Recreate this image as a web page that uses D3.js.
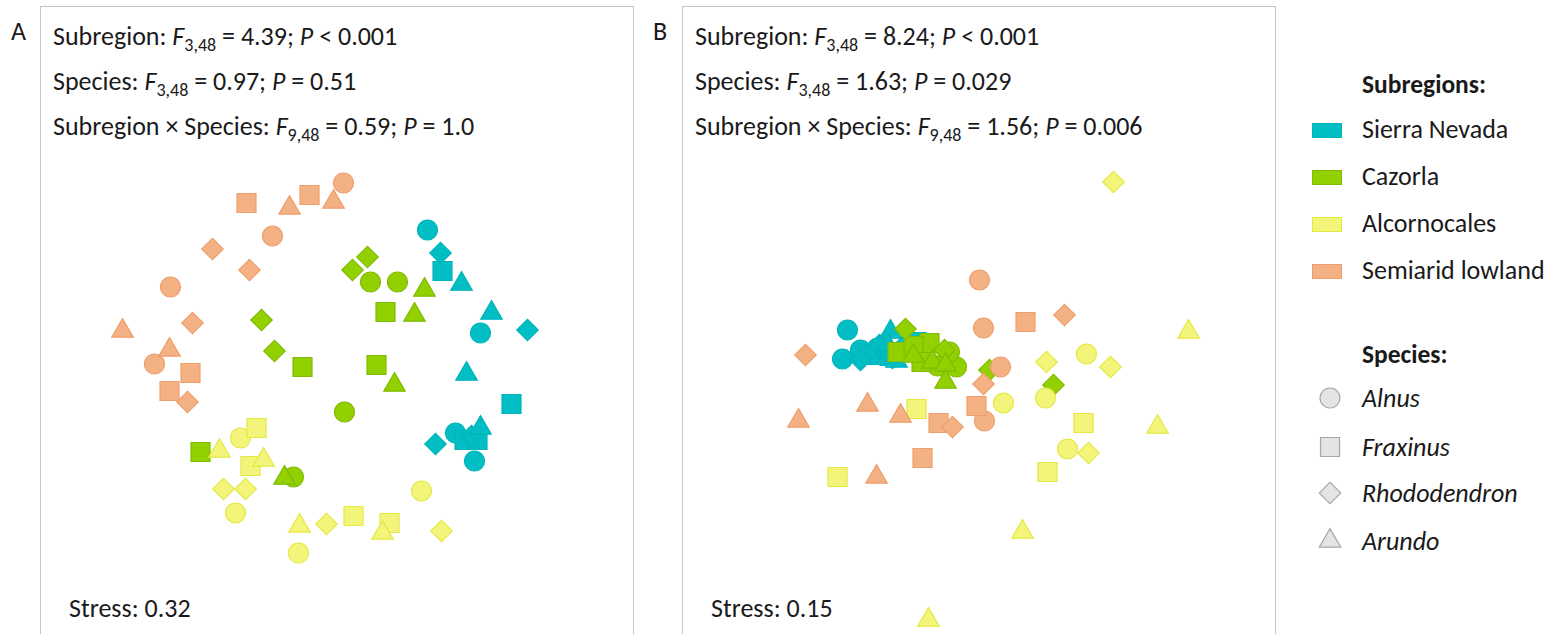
<!DOCTYPE html>
<meta charset="utf-8">
<style>
  body { margin: 0; background: #fff; }
  svg { display: block; font-family: Carlito, Lato, "Open Sans", sans-serif; }
  text { fill: #1a1a1a; }
</style>
<body>
<script src="https://d3js.org/d3.v7.min.js"></script>
<script>

var width = 1563,
    height = 634;

// categories
var subregions = ["Sierra Nevada", "Cazorla", "Alcornocales", "Semiarid lowland"];
var species = ["Alnus", "Fraxinus", "Rhododendron", "Arundo"];

// NMDS scores, 4 replicates per species in the order of `species`
var nmdsA_sierra = [[0.455, 0.65], [0.72, 0.135], [0.595, -0.365], [0.69, -0.505],
                    [0.53, 0.445], [0.875, -0.22], [0.64, -0.4], [0.705, -0.4],
                    [0.52, 0.535], [0.955, 0.15], [0.495, -0.42], [0.675, -0.38],
                    [0.625, 0.38], [0.775, 0.235], [0.65, -0.07], [0.72, -0.34]];
var nmdsA_cazorla = [[0.17, 0.39], [0.305, 0.39], [0.04, -0.26], [-0.215, -0.585],
                     [0.245, 0.24], [-0.17, -0.035], [0.2, -0.025], [-0.68, -0.46],
                     [0.155, 0.515], [0.08, 0.45], [-0.375, 0.2], [-0.31, 0.045],
                     [0.44, 0.35], [0.39, 0.225], [0.29, -0.125], [-0.26, -0.59]];
var nmdsA_alcorno = [[-0.48, -0.39], [-0.505, -0.765], [0.425, -0.655], [-0.19, -0.965],
                     [-0.4, -0.34], [-0.43, -0.53], [0.085, -0.78], [0.265, -0.815],
                     [-0.565, -0.645], [-0.455, -0.645], [-0.05, -0.82], [0.525, -0.855],
                     [-0.585, -0.455], [-0.365, -0.5], [-0.185, -0.83], [0.23, -0.865]];
var nmdsA_semiarid = [[0.035, 0.885], [-0.32, 0.62], [-0.83, 0.365], [-0.91, -0.02],
                      [-0.45, 0.785], [-0.135, 0.825], [-0.73, -0.065], [-0.835, -0.155],
                      [-0.62, 0.555], [-0.435, 0.45], [-0.72, 0.185], [-0.745, -0.21],
                      [-0.235, 0.76], [-0.015, 0.79], [-1.07, 0.145], [-0.835, 0.05]];

var nmdsB_sierra = [[-0.655, 0.15], [-0.68, 0.005], [-0.59, 0.05], [-0.505, 0.06],
                    [-0.485, 0.04], [-0.31, 0.09], [-0.445, 0.02], [-0.545, 0.025],
                    [-0.59, 0], [-0.43, 0.01], [-0.37, 0.075], [-0.495, 0.075],
                    [-0.44, 0.14], [-0.41, -0.005], [-0.455, 0.075], [-0.295, 0.05]];
var nmdsB_cazorla = [[-0.205, -0.03], [-0.11, -0.035], [-0.145, 0.04], [-0.27, 0],
                     [-0.405, 0.04], [-0.245, 0.085], [-0.325, 0.07], [-0.285, -0.01],
                     [-0.365, 0.155], [0.375, -0.125], [0.055, -0.05], [-0.17, 0.05],
                     [-0.325, 0.02], [-0.23, -0.01], [-0.165, -0.025], [-0.165, -0.11]];
var nmdsB_alcorno = [[0.125, -0.215], [0.335, -0.19], [0.445, -0.445], [0.54, 0.03],
                     [-0.31, -0.245], [0.525, -0.315], [0.345, -0.56], [-0.705, -0.585],
                     [0.675, 0.89], [0.55, -0.465], [0.34, -0.01], [0.66, -0.035],
                     [0.895, -0.335], [0.22, -0.86], [1.05, 0.14], [-0.25, -1.3]];
var nmdsB_semiarid = [[0.005, 0.4], [0.025, 0.16], [0.11, -0.035], [0.03, -0.305],
                      [0.235, 0.19], [-0.2, -0.315], [-0.01, -0.23], [-0.28, -0.49],
                      [-0.865, 0.025], [0.43, 0.225], [0.025, -0.12], [-0.13, -0.335],
                      [-0.9, -0.305], [-0.555, -0.225], [-0.39, -0.28], [-0.51, -0.585]];

// PERMANOVA results: [label, F df, F value, P text]
var statsA = [["Subregion: ", "3,48", "4.39", "< 0.001"],
              ["Species: ", "3,48", "0.97", "= 0.51"],
              ["Subregion \u00d7 Species: ", "9,48", "0.59", "= 1.0"]];
var statsB = [["Subregion: ", "3,48", "8.24", "< 0.001"],
              ["Species: ", "3,48", "1.63", "= 0.029"],
              ["Subregion \u00d7 Species: ", "9,48", "1.56", "= 0.006"]];
var stress = ["0.32", "0.15"];

var fills = ["#00bec4", "#92d000", "#f2f57a", "#f4b183"],
    strokes = ["#00b4ba", "#7fbb00", "#e4e843", "#ee9e6c"];

var shapeFor = {
  Alnus: function() { return d3.symbol(d3.symbolCircle, 314)(); },
  Fraxinus: function() { return d3.symbol(d3.symbolSquare, 360)(); },
  Rhododendron: function() { return d3.symbol(d3.symbolSquare, 230)(); },
  Arundo: function() { return d3.symbol(d3.symbolTriangle, 200)(); }
};

var svg = d3.select("body").append("svg")
    .attr("width", width)
    .attr("height", height);

function toPoints(arrs) {
  var pts = [];
  arrs.forEach(function(arr, gi) {
    arr.forEach(function(p, i) {
      pts.push({ group: gi, sp: species[Math.floor(i / 4)], x: p[0], y: p[1] });
    });
  });
  return pts;
}

var panels = [
  { label: "A", left: 40, stats: statsA, stress: stress[0],
    pts: toPoints([nmdsA_sierra, nmdsA_cazorla, nmdsA_alcorno, nmdsA_semiarid]) },
  { label: "B", left: 682, stats: statsB, stress: stress[1],
    pts: toPoints([nmdsB_sierra, nmdsB_cazorla, nmdsB_alcorno, nmdsB_semiarid]) }
];

var boxW = 593;

panels.forEach(function(p) {
  var g = svg.append("g");

  g.append("rect")
      .attr("x", p.left + 0.5).attr("y", 6.5)
      .attr("width", boxW).attr("height", 700)
      .attr("fill", "none").attr("stroke", "#c4c4c4");

  g.append("text")
      .attr("x", p.left - 29).attr("y", 40)
      .style("font-size", "26px")
      .text(p.label);

  var x = d3.scaleLinear().domain([-1, 1]).range([p.left + boxW / 2 - 200, p.left + boxW / 2 + 200]);
  var y = d3.scaleLinear().domain([-1, 1]).range([560, 160]);

  g.selectAll(".pt")
      .data(p.pts)
    .enter().append("path")
      .attr("class", "pt")
      .attr("d", function(d) { return shapeFor[d.sp](); })
      .attr("transform", function(d) {
        return "translate(" + x(d.x) + "," + y(d.y) + ")" + (d.sp == "Rhododendron" ? "rotate(45)" : "");
      })
      .attr("fill", function(d) { return fills[d.group]; })
      .attr("stroke", function(d) { return strokes[d.group]; })
      .attr("stroke-width", 1.2);

  // stats text
  p.stats.forEach(function(s, i) {
    var t = g.append("text")
        .attr("x", p.left + 13).attr("y", 45 + i * 45)
        .style("font-size", "26px");
    t.append("tspan").text(s[0]);
    t.append("tspan").style("font-style", "italic").text("F");
    t.append("tspan").attr("dy", 6).style("font-size", "18px").text(s[1]);
    t.append("tspan").attr("dy", -6).text(" = " + s[2] + "; ");
    t.append("tspan").style("font-style", "italic").text("P");
    t.append("tspan").text(" " + s[3]);
  });

  g.append("text")
      .attr("x", p.left + 29).attr("y", 617)
      .style("font-size", "26px")
      .text("Stress: " + p.stress);
});

// legend
var leg = svg.append("g");
leg.append("text")
    .attr("x", 1362).attr("y", 93)
    .style("font-size", "25.5px").style("font-weight", "bold")
    .text("Subregions:");

subregions.forEach(function(s, i) {
  leg.append("rect")
      .attr("x", 1312.5).attr("y", 123.5 + i * 47)
      .attr("width", 29).attr("height", 14)
      .attr("fill", fills[i]).attr("stroke", strokes[i]);
  leg.append("text")
      .attr("x", 1362).attr("y", 138 + i * 47)
      .style("font-size", "26px")
      .text(s);
});

leg.append("text")
    .attr("x", 1362).attr("y", 363)
    .style("font-size", "25.5px").style("font-weight", "bold")
    .text("Species:");

var legY = [398, 447, 493, 541];
species.forEach(function(s, i) {
  leg.append("path")
      .attr("d", shapeFor[s]())
      .attr("transform", "translate(1330," + legY[i] + ")" + (s == "Rhododendron" ? "rotate(45)" : ""))
      .attr("fill", "#e4e4e4").attr("stroke", "#a6a6a6").attr("stroke-width", 1.2);
  leg.append("text")
      .attr("x", 1362).attr("y", legY[i] + 9)
      .style("font-size", "26px").style("font-style", "italic")
      .text(s);
});

</script>
</body>
</html>
